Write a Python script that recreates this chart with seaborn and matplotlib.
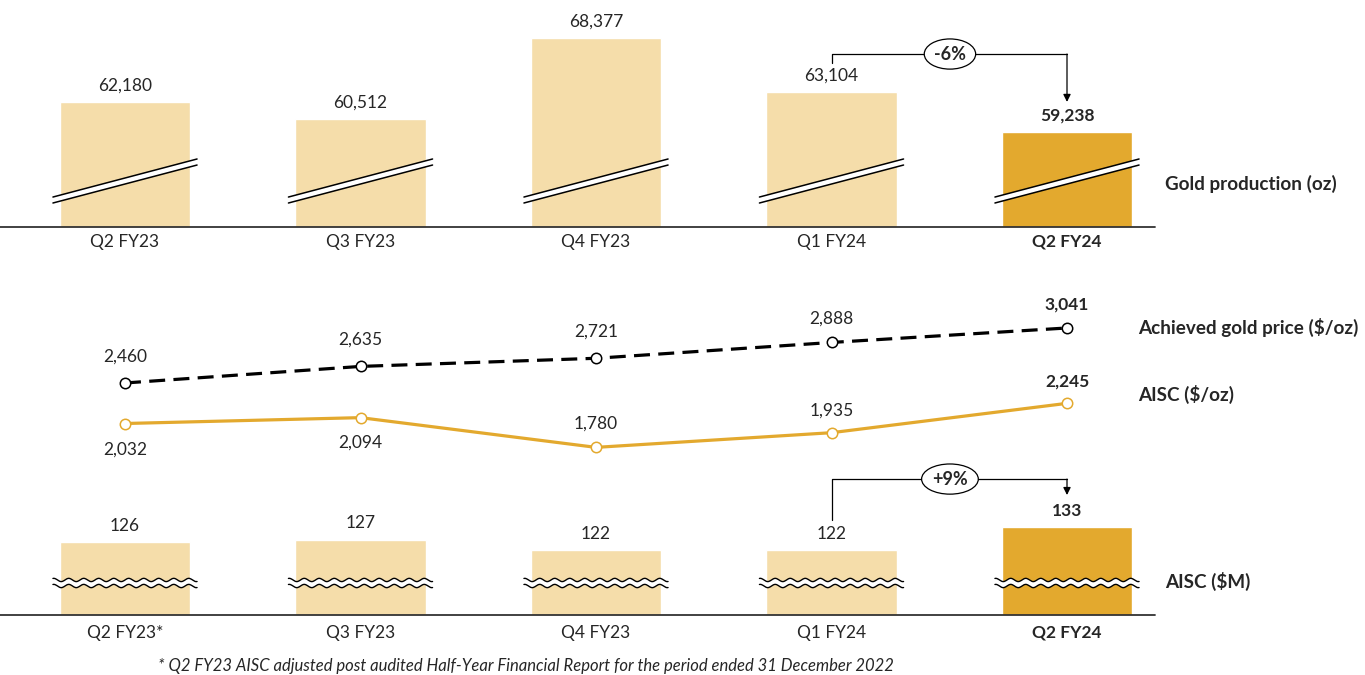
import numpy as np
import pandas as pd
import matplotlib
matplotlib.use("Agg")
import matplotlib.pyplot as plt
import matplotlib.transforms as mtransforms
import seaborn as sns

# data
quarters_top = ["Q2 FY23", "Q3 FY23", "Q4 FY23", "Q1 FY24", "Q2 FY24"]
quarters_bot = ["Q2 FY23*", "Q3 FY23", "Q4 FY23", "Q1 FY24", "Q2 FY24"]
gold_oz = [62180, 60512, 68377, 63104, 59238]
gold_price = [2460, 2635, 2721, 2888, 3041]
aisc_oz = [2032, 2094, 1780, 1935, 2245]
aisc_m = [126, 127, 122, 122, 133]

LIGHT = "#F5DDAA"
DARK = "#E3A92E"
bar_colors = [LIGHT, LIGHT, LIGHT, LIGHT, DARK]

sns.set_style("white")
plt.rcParams["font.family"] = ["Lato", "DejaVu Sans"]
FS = 12.5

fig = plt.figure(figsize=(13.65, 6.75), dpi=100)
W, H = 1365, 675
XLIM = (-125 / 235.5, (W - 125) / 235.5)


def px_axes(top, bottom):
    return fig.add_axes([0, (H - bottom) / H, 1, (bottom - top) / H])


ax1 = px_axes(0, 227)
ax2 = px_axes(290, 470)
ax3 = px_axes(460, 615)
for a in (ax1, ax2, ax3):
    a.set_facecolor("none")
    for s in a.spines.values():
        s.set_visible(False)

df_top = pd.DataFrame({"q": quarters_top, "v": gold_oz})
df_bot = pd.DataFrame({"q": quarters_bot, "v": aisc_m})
df_line = pd.DataFrame({"q": quarters_top, "price": gold_price, "aisc": aisc_oz})

sns.barplot(data=df_top, x="q", y="v", hue="q", palette=bar_colors,
            width=0.556, legend=False, ax=ax1, saturation=1)
sns.barplot(data=df_bot, x="q", y="v", hue="q", palette=bar_colors,
            width=0.556, legend=False, ax=ax3, saturation=1)

ax1.set_ylim(50000, 50000 + 227 * 97.1)
ax3.set_ylim(91, 91 + 155 / 2.09)
ax2.set_ylim(1541, 3442)


def style_cat_axis(ax, labels, pad):
    ax.set_xlim(*XLIM)
    ax.set_xlabel("")
    ax.set_ylabel("")
    ax.set_yticks([])
    ax.set_xticks(range(len(labels)))
    ax.set_xticklabels(labels, fontsize=FS)
    ax.tick_params(axis="x", length=0, pad=pad)
    ax.get_xticklabels()[-1].set_fontweight("bold")
    ax.plot([0, 1155 / W], [0, 0], transform=ax.transAxes, color="#333333",
            lw=1.3, clip_on=False, zorder=5)


style_cat_axis(ax1, quarters_top, 5)
style_cat_axis(ax3, quarters_bot, 7)

# bar value labels
for ax, vals in ((ax1, gold_oz), (ax3, aisc_m)):
    for i, v in enumerate(vals):
        ax.annotate(f"{v:,}", (i, v), xytext=(0, 6), textcoords="offset points",
                    ha="center", va="bottom", fontsize=FS,
                    fontweight="bold" if i == len(vals) - 1 else "normal")

# slanted break marks on top bars
tr1 = mtransforms.blended_transform_factory(ax1.transData, ax1.transAxes)
for i in range(len(gold_oz)):
    xs = np.array([i - 0.306, i + 0.306])
    up = np.array([0.132, 0.2996])
    lo = np.array([0.1057, 0.273])
    ax1.fill(np.r_[xs, xs[::-1]], np.r_[up, lo[::-1]], color="white",
             transform=tr1, zorder=3, lw=0)
    ax1.plot(xs, up, color="black", lw=1.1, transform=tr1, zorder=4)
    ax1.plot(xs, lo, color="black", lw=1.1, transform=tr1, zorder=4)

# wavy break marks on bottom bars
tr3 = mtransforms.blended_transform_factory(ax3.transData, ax3.transAxes)
for i in range(len(aisc_m)):
    xs = np.linspace(i - 0.306, i + 0.306, 200)
    wave = 0.0105 * np.sin((xs - i) / 0.0637 * 2 * np.pi)
    up = 0.226 + wave
    lo = 0.187 + wave
    ax3.fill(np.r_[xs, xs[::-1]], np.r_[up, lo[::-1]], color="white",
             transform=tr3, zorder=3, lw=0)
    ax3.plot(xs, up, color="black", lw=1.0, transform=tr3, zorder=4)
    ax3.plot(xs, lo, color="black", lw=1.0, transform=tr3, zorder=4)

# lines
sns.lineplot(data=df_line, x="q", y="price", ax=ax2, color="black", lw=2.3,
             marker="o", markersize=7.5, markerfacecolor="white",
             markeredgecolor="black", markeredgewidth=1.1, sort=False)
sns.lineplot(data=df_line, x="q", y="aisc", ax=ax2, color=DARK, lw=2.3,
             marker="o", markersize=7.5, markerfacecolor="white",
             markeredgecolor=DARK, markeredgewidth=1.1, sort=False)
ax2.lines[0].set_dashes((5, 2.6))
ax2.set_xlim(*XLIM)
ax2.set_xticks([])
ax2.set_yticks([])
ax2.set_xlabel("")
ax2.set_ylabel("")

price_off = [19, 19, 19, 17, 17]
aisc_off = [-19, -18, 17, 16, 16]
for i, (p, a) in enumerate(zip(gold_price, aisc_oz)):
    w = "bold" if i == len(gold_price) - 1 else "normal"
    ax2.annotate(f"{p:,}", (i, p), xytext=(0, price_off[i]), textcoords="offset points",
                 ha="center", va="center", fontsize=FS, fontweight=w)
    ax2.annotate(f"{a:,}", (i, a), xytext=(0, aisc_off[i]), textcoords="offset points",
                 ha="center", va="center", fontsize=FS, fontweight=w)


# change brackets
def bracket(ax, tr, y0, yh, y1, label):
    ax.plot([3, 3, 4], [y0, yh, yh], color="black", lw=0.9, transform=tr,
            clip_on=False, zorder=6)
    ax.annotate("", xy=(4, y1), xytext=(4, yh), xycoords=tr, textcoords=tr,
                arrowprops=dict(arrowstyle="-|>", color="black", lw=0.9,
                                mutation_scale=11, shrinkA=0, shrinkB=0),
                annotation_clip=False, zorder=6)
    ax.text(3.503, yh, label, transform=tr, ha="center", va="center",
            fontsize=FS + 0.5, fontweight="bold", zorder=7,
            bbox=dict(boxstyle="ellipse,pad=0.12", fc="white", ec="black", lw=0.9))


bracket(ax1, tr1, 0.722, 0.762, 0.551, "-6%")
bracket(ax3, tr3, 0.613, 0.877, 0.774, "+9%")


# series labels on the right
def rlabel(x, y, s):
    fig.text(x / W, 1 - y / H, s, ha="left", va="center", fontsize=13.6, fontweight="bold")


rlabel(1165, 184, "Gold production (oz)")
rlabel(1138, 327, "Achieved gold price ($/oz)")
rlabel(1138, 394, "AISC ($/oz)")
rlabel(1165, 581, "AISC ($M)")

fig.text(158 / W, 1 - 666 / H,
         "* Q2 FY23 AISC adjusted post audited Half-Year Financial Report for the period ended 31 December 2022",
         ha="left", va="center", fontsize=12, fontstyle="italic")

fig.savefig("out.png", dpi=100)
